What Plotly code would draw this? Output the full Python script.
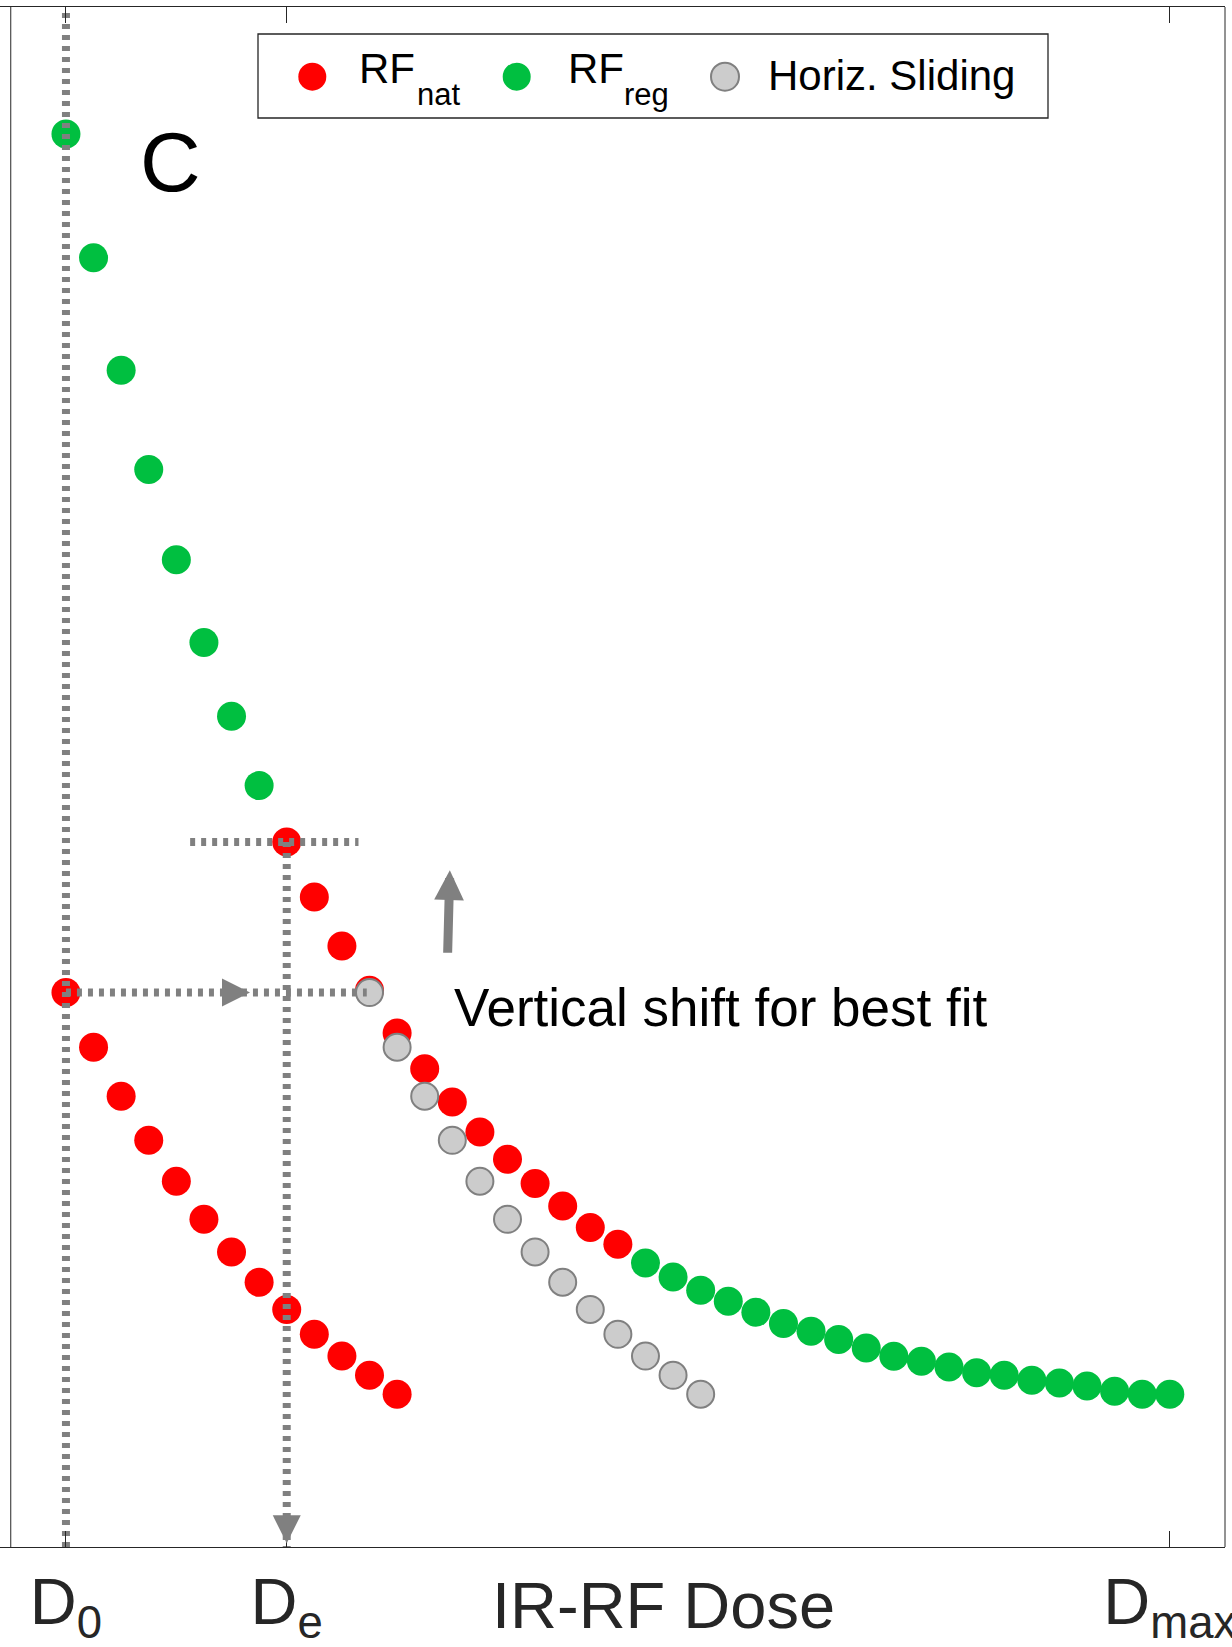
import plotly.graph_objects as go

# ---------------- data ----------------
DOSE_TICKS = [0, 8, 40]
DOSE_TICK_LABELS = ["D<sub>0</sub>", "D<sub>e</sub>", "D<sub>max</sub>"]
D0, DE, DMAX = 0, 8, 40

# natural IR-RF curve (measured)
nat_dose = [0, 1, 2, 3, 4, 5, 6, 7, 8, 9, 10, 11, 12]
nat_signal = [36.00, 32.45, 29.27, 26.41, 23.75, 21.28, 19.16, 17.19, 15.42, 13.81, 12.40, 11.15, 9.92]

# natural curve after horizontal sliding + vertical shift for best fit
nat_fit_dose = [8, 9, 10, 11, 12, 13, 14, 15, 16, 17, 18, 19, 20]
nat_fit_signal = [45.78, 42.21, 39.03, 36.15, 33.38, 31.06, 28.90, 26.95, 25.18, 23.60, 22.14, 20.74, 19.66]

# natural curve after horizontal sliding only
slide_dose = [11, 12, 13, 14, 15, 16, 17, 18, 19, 20, 21, 22, 23]
slide_signal = [36.00, 32.45, 29.27, 26.41, 23.75, 21.28, 19.16, 17.19, 15.42, 13.81, 12.40, 11.15, 9.92]

# regenerated IR-RF curve
reg_dose = [0, 1, 2, 3, 4, 5, 6, 7,
            21, 22, 23, 24, 25, 26, 27, 28, 29, 30, 31, 32, 33, 34, 35, 36, 37, 38, 39, 40]
reg_signal = [91.75, 83.72, 76.41, 69.97, 64.10, 58.73, 53.94, 49.44,
              18.44, 17.53, 16.67, 15.95, 15.24, 14.51, 14.01, 13.47, 12.92, 12.38,
              12.06, 11.69, 11.32, 11.15, 10.82, 10.65, 10.45, 10.11, 9.92, 9.92]

LEGEND_LABELS = [("RF", "nat"), ("RF", "reg"), ("Horiz. Sliding", "")]

X_RANGE = [-2.39, 42]
Y_RANGE = [0, 100]
AX_LEFT = -2

# ---------------- style / layout ----------------
W, H = 1232, 1647
ML, MR, MT, MB = 0, 7, 7, 100
PW, PH = W - ML - MR, H - MT - MB

RED = "#ff0000"
GREEN = "#00bf40"
LGRAY = "#cccccc"
GRAY = "#808080"
AXC = "#262626"
FONT = "Liberation Sans, Arial, sans-serif"
MS = 29
DOT = "5px,6px"
LW = 8


def px_x(px):
    return (px - ML) / PW


def px_y(py):
    return (H - MB - py) / PH


fig = go.Figure()

fig.add_trace(go.Scatter(x=reg_dose, y=reg_signal, mode="markers",
                         marker=dict(size=MS, color=GREEN, line=dict(width=0)),
                         showlegend=False))
fig.add_trace(go.Scatter(x=nat_dose, y=nat_signal, mode="markers",
                         marker=dict(size=MS, color=RED, line=dict(width=0)),
                         showlegend=False))
fig.add_trace(go.Scatter(x=nat_fit_dose, y=nat_fit_signal, mode="markers",
                         marker=dict(size=MS, color=RED, line=dict(width=0)),
                         showlegend=False))
fig.add_trace(go.Scatter(x=slide_dose, y=slide_signal, mode="markers",
                         marker=dict(size=MS - 2, color=LGRAY, line=dict(width=2, color=GRAY)),
                         showlegend=False))

# dotted guide lines (drawn above markers)
de_signal = nat_fit_signal[0]
d0_signal = nat_signal[0]
guides = [
    ([D0, D0], [Y_RANGE[0], Y_RANGE[1]]),
    ([DE, DE], [de_signal, Y_RANGE[0]]),
    ([DE - 3.5, DE + 2.6], [de_signal, de_signal]),
    ([D0, slide_dose[0] - 0.1], [d0_signal, d0_signal]),
]
for gx, gy in guides:
    fig.add_trace(go.Scatter(x=gx, y=gy, mode="lines",
                             line=dict(color=GRAY, width=LW, dash=DOT),
                             showlegend=False, hoverinfo="skip"))

annotations = []
# arrow heads on dotted lines
annotations.append(dict(x=6.67, y=d0_signal, ax=5.65, ay=d0_signal,
                        xref="x", yref="y", axref="x", ayref="y", text="",
                        showarrow=True, arrowhead=2, arrowwidth=2, arrowsize=2.8,
                        arrowcolor=GRAY))
annotations.append(dict(x=DE, y=0.24, ax=DE, ay=2.19,
                        xref="x", yref="y", axref="x", ayref="y", text="",
                        showarrow=True, arrowhead=2, arrowwidth=2, arrowsize=2.8,
                        arrowcolor=GRAY))
# solid vertical-shift arrow
annotations.append(dict(x=13.91, y=43.94, ax=13.83, ay=38.49,
                        xref="x", yref="y", axref="x", ayref="y", text="",
                        showarrow=True, arrowhead=2, arrowwidth=9, arrowsize=0.66,
                        arrowcolor=GRAY))

annotations.append(dict(x=px_x(452), y=px_y(1007), xref="paper", yref="paper",
                        text="Vertical shift for best fit", showarrow=False,
                        xanchor="left", yanchor="middle",
                        font=dict(family=FONT, size=53, color="#000000")))
annotations.append(dict(x=px_x(170), y=px_y(162), xref="paper", yref="paper",
                        text="C", showarrow=False, xanchor="center", yanchor="middle",
                        font=dict(family=FONT, size=84, color="#000000")))
annotations.append(dict(x=px_x(663.5), y=px_y(1605.5), xref="paper", yref="paper",
                        text="IR-RF Dose", showarrow=False, xanchor="center", yanchor="middle",
                        font=dict(family=FONT, size=65, color=AXC)))

# custom legend
shapes = []
shapes.append(dict(type="rect", xref="paper", yref="paper",
                   x0=px_x(258), x1=px_x(1048), y0=px_y(118), y1=px_y(34),
                   line=dict(color=AXC, width=1.3), fillcolor="white", layer="above"))
leg_markers = [(312.3, RED, None), (516.7, GREEN, None), (725, LGRAY, GRAY)]
for cx, fc, lc in leg_markers:
    r = 14
    shapes.append(dict(type="circle", xref="paper", yref="paper",
                       xsizemode="pixel", ysizemode="pixel",
                       xanchor=px_x(cx), yanchor=px_y(76.7),
                       x0=-r, x1=r, y0=-r, y1=r, fillcolor=fc,
                       line=dict(color=lc if lc else fc, width=2 if lc else 0),
                       layer="above"))
leg_text_pos = [(357.4, 415.3, 68.7), (565.7, 622, 68.7), (765.7, None, 75.4)]
for (main, sub), (mx, sx, my) in zip(LEGEND_LABELS, leg_text_pos):
    annotations.append(dict(x=px_x(mx), y=px_y(my), xref="paper", yref="paper",
                            text=main, showarrow=False, xanchor="left", yanchor="middle",
                            font=dict(family=FONT, size=42, color="#000000")))
    if sub:
        annotations.append(dict(x=px_x(sx), y=px_y(105 - 10.7), xref="paper", yref="paper",
                                text=sub, showarrow=False, xanchor="left", yanchor="middle",
                                font=dict(family=FONT, size=31, color="#000000")))

# axes box lines (left box edge and right edge)
shapes.append(dict(type="line", xref="x", yref="paper", x0=AX_LEFT, x1=AX_LEFT, y0=0, y1=1,
                   line=dict(color=AXC, width=1)))
shapes.append(dict(type="line", xref="paper", yref="paper", x0=1, x1=1, y0=0, y1=1,
                   line=dict(color=AXC, width=1)))

fig.update_layout(
    width=W, height=H,
    margin=dict(l=ML, r=MR, t=MT, b=MB, pad=0, autoexpand=False),
    plot_bgcolor="white", paper_bgcolor="white",
    showlegend=False,
    annotations=annotations,
    shapes=shapes,
    font=dict(family=FONT),
)
fig.update_xaxes(range=X_RANGE, showgrid=False, zeroline=False, automargin=False,
                 showline=True, linecolor=AXC, linewidth=1, mirror="ticks",
                 ticks="inside", ticklen=16, tickwidth=1, tickcolor=AXC,
                 tickvals=DOSE_TICKS, ticktext=DOSE_TICK_LABELS,
                 tickfont=dict(family=FONT, size=65, color=AXC),
                 ticklabelstandoff=-2, ticklabeloverflow="allow")
fig.update_yaxes(range=Y_RANGE, showgrid=False, zeroline=False, showline=False,
                 automargin=False, showticklabels=False, ticks="")

fig.write_html("out.html", config={"displayModeBar": False},
               post_script="document.body.style.margin='0px';document.body.style.overflow='hidden';")
